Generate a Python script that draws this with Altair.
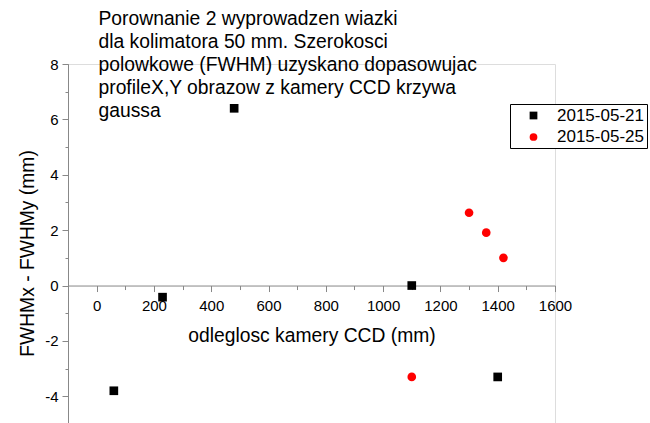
import altair as alt
import pandas as pd

# FWHMx - FWHMy versus CCD camera distance, two beam extraction sessions
SERIES = ["2015-05-21", "2015-05-25"]
DIST_0521 = [60, 230, 480, 1100, 1400]
DIFF_0521 = [-3.8, -0.42, 6.4, 0.0, -3.3]
DIST_0525 = [1100, 1300, 1360, 1420]
DIFF_0525 = [-3.3, 2.63, 1.91, 1.0]

TITLE_LINES = [
    "Porownanie 2 wyprowadzen wiazki",
    "dla kolimatora 50 mm. Szerokosci",
    "polowkowe (FWHM) uzyskano dopasowujac",
    "profileX,Y obrazow z kamery CCD krzywa",
    "gaussa",
]

X_DOMAIN = [-100, 1600]
Y_DOMAIN = [-5, 8]
X_MAJOR = list(range(0, 1601, 200))
X_MINOR = list(range(-100, 1601, 100))
Y_MAJOR = list(range(-4, 9, 2))
Y_MINOR = list(range(-5, 9, 1))

FONT = "Liberation Sans"
TEXT_SIZE = 19.3
PLOT_W, PLOT_H = 487, 360
# y = 0 sits 8/13 of the way down; the x axis is drawn there
X_AXIS_SHIFT = -PLOT_H * (0 - Y_DOMAIN[0]) / (Y_DOMAIN[1] - Y_DOMAIN[0])

df_a = pd.DataFrame({"dist": DIST_0521, "diff": DIFF_0521, "series": SERIES[0]})
df_b = pd.DataFrame({"dist": DIST_0525, "diff": DIFF_0525, "series": SERIES[1]})

color = alt.Color(
    "series:N",
    scale=alt.Scale(domain=SERIES, range=["#000000", "#ff0000"]),
    legend=alt.Legend(
        title=None,
        orient="none",
        legendX=442,
        legendY=40,
        strokeColor="black",
        fillColor="white",
        padding=3,
        rowPadding=3.5,
        symbolOffset=12,
        labelOffset=15,
        symbolSize=60,
        symbolStrokeWidth=0,
        labelFontSize=17,
        labelFont=FONT,
        labelColor="black",
        labelLimit=300,
    ),
)
shape = alt.Shape(
    "series:N",
    scale=alt.Scale(domain=SERIES, range=["square", "circle"]),
    legend=None,
)

x_major_axis = alt.Axis(
    orient="bottom",
    offset=X_AXIS_SHIFT,
    values=X_MAJOR,
    tickSize=6,
    labelPadding=7,
    labelFontSize=15,
    labelFlush=False,
    labelOverlap=False,
    labelExpr="'' + datum.value",
    grid=False,
    title="odleglosc kamery CCD (mm)",
    titleFontSize=TEXT_SIZE,
    titleFontWeight="normal",
    titleBaseline="alphabetic",
    titleY=56,
)
x_minor_axis = alt.Axis(
    orient="bottom",
    offset=X_AXIS_SHIFT,
    values=X_MINOR,
    tickSize=4,
    labels=False,
    domain=False,
    grid=False,
    title=None,
)
y_major_axis = alt.Axis(
    orient="left",
    values=Y_MAJOR,
    tickSize=6,
    labelPadding=4,
    labelFontSize=15,
    labelExpr="'' + datum.value",
    grid=False,
    title="FWHMx - FWHMy (mm)",
    titleFontSize=TEXT_SIZE,
    titleFontWeight="normal",
    titleBaseline="alphabetic",
    titleAlign="center",
    titleAngle=270,
    titleX=-35,
    titleY=189,
)
y_minor_axis = alt.Axis(
    orient="left",
    values=Y_MINOR,
    tickSize=3,
    labels=False,
    domain=False,
    grid=False,
    title=None,
)

x_scale = alt.Scale(domain=X_DOMAIN, nice=False, zero=False)
y_scale = alt.Scale(domain=Y_DOMAIN, nice=False, zero=False)

squares = alt.Chart(df_a).mark_point(filled=True, size=75, opacity=1).encode(
    x=alt.X("dist:Q", scale=x_scale, axis=x_major_axis),
    y=alt.Y("diff:Q", scale=y_scale, axis=y_major_axis),
    color=color,
    shape=shape,
)
circles = alt.Chart(df_b).mark_point(filled=True, size=75, opacity=1).encode(
    x=alt.X("dist:Q", scale=x_scale, axis=x_minor_axis),
    y=alt.Y("diff:Q", scale=y_scale, axis=y_minor_axis),
    color=color,
    shape=shape,
)

note = alt.Chart(alt.Data(values=[{}])).mark_text(
    text=TITLE_LINES,
    align="left",
    baseline="alphabetic",
    font=FONT,
    fontSize=TEXT_SIZE,
    lineHeight=23,
    color="black",
).encode(x=alt.value(30.5), y=alt.value(-39))

chart = (
    alt.layer(squares, circles, note)
    .resolve_axis(x="independent", y="independent")
    .properties(
        width=PLOT_W,
        height=PLOT_H,
        autosize=alt.AutoSizeParams(type="none"),
        padding={"left": 68, "top": 64, "right": 95, "bottom": 0},
        background="white",
    )
    .configure_view(stroke=None)
    .configure_axis(
        domainColor="black",
        tickColor="black",
        labelColor="black",
        titleColor="black",
        labelFont=FONT,
        titleFont=FONT,
        domainWidth=1,
        tickWidth=1,
    )
    .configure(font=FONT)
)

chart.save("out.html", embed_options={"renderer": "svg", "actions": False})
